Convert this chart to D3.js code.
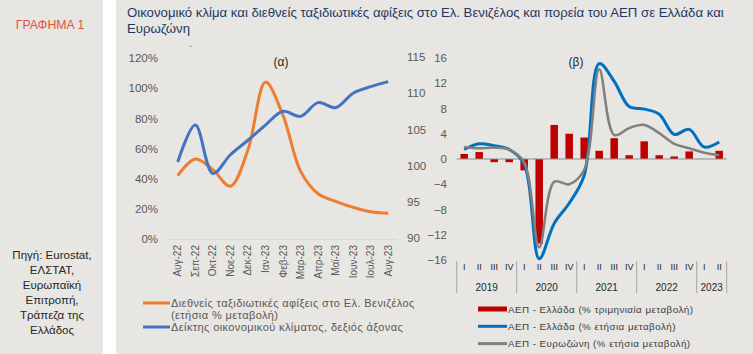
<!DOCTYPE html>
<html><head><meta charset="utf-8">
<script src="https://cdn.jsdelivr.net/npm/d3@7"></script>
<style>
html,body{margin:0;padding:0;background:#fff;}
svg{display:block;font-family:"Liberation Sans",Arial,sans-serif;}
</style></head>
<body>
<script>
// ---- data ----
const months = ["Αυγ-22","Σεπ-22","Οκτ-22","Νοε-22","Δεκ-22","Ιαν-23","Φεβ-23","Μαρ-23","Απρ-23","Μαϊ-23","Ιουν-23","Ιουλ-23","Αυγ-23"];
const arrivals = [0.42,0.53,0.46,0.35,0.59,1.04,0.82,0.45,0.30,0.25,0.21,0.18,0.17];
const climate = [100.5,105.6,98.9,101.5,103.5,105.6,107.5,106.8,108.7,108.0,110.0,110.9,111.6];
const leftTicksA = [0,0.2,0.4,0.6,0.8,1.0,1.2];
const rightTicksA = [90,95,100,105,110,115];

const years = ["2019","2020","2021","2022","2023"];
const quartersPerYear = [4,4,4,4,2];
const qNames = ["I","II","III","IV"];
const grQoQ = [0.8,1.1,-0.5,-0.5,-1.8,-13.4,5.4,4.0,3.4,1.3,3.3,0.6,2.8,0.6,0.4,1.2,0.0,1.3];
const grYoY = [1.5,2.4,2.1,1.5,-0.8,-15.8,-10.2,-7.0,-2.6,15.1,12.3,8.3,7.9,7.1,3.9,4.7,1.9,2.7];
const ezYoY = [1.9,1.7,1.8,1.5,-0.5,-14.0,-3.6,-4.0,-1.7,14.2,3.8,4.9,5.4,4.1,2.4,1.7,1.0,0.6];
const ticksB = [-16,-12,-8,-4,0,4,8,12,16];

const titleText = ["Οικονομικό κλίμα και διεθνείς ταξιδιωτικές αφίξεις στο Ελ. Βενιζέλος και πορεία του ΑΕΠ σε Ελλάδα και","Ευρωζώνη"];
const sourceText = ["Πηγή: Eurostat,","ΕΛΣΤΑΤ,","Ευρωπαϊκή","Επιτροπή,","Τράπεζα της","Ελλάδος"];
const legendA = [
  {lines:["Διεθνείς ταξιδιωτικές αφίξεις στο Ελ. Βενιζέλος","(ετήσια % μεταβολή)"], color:"#ed7d31"},
  {lines:["Δείκτης οικονομικού κλίματος, δεξιός άξονας"], color:"#4472c4"}
];
const legendB = [
  {text:"ΑΕΠ - Ελλάδα (% τριμηνιαία μεταβολή)", color:"#c00000", w:5},
  {text:"ΑΕΠ - Ελλάδα (% ετήσια μεταβολή)", color:"#0070c0", w:3},
  {text:"ΑΕΠ - Ευρωζώνη (% ετήσια μεταβολή)", color:"#808080", w:3}
];

const W = 753, H = 354;
const bg = "#e7e6e2";
const svg = d3.select("body").append("svg").attr("width",W).attr("height",H);

// panels
svg.append("rect").attr("x",0).attr("y",0).attr("width",103).attr("height",H).attr("fill",bg);
svg.append("rect").attr("x",116).attr("y",0).attr("width",W-116).attr("height",H).attr("fill",bg);

svg.append("text").attr("x",50).attr("y",29).attr("text-anchor","middle")
  .attr("font-size",12.3).attr("fill","#e0533d").text("ΓΡΑΦΗΜΑ 1");

svg.append("g").selectAll("text").data(sourceText).join("text")
  .attr("x",52).attr("y",(d,i)=>259+i*15).attr("text-anchor","middle")
  .attr("font-size",11.5).attr("fill","#262626").text(d=>d);

svg.append("g").selectAll("text").data(titleText).join("text")
  .attr("x",127).attr("y",(d,i)=>17+i*16)
  .attr("font-size",13.2).attr("fill","#1f3864").text(d=>d);

svg.append("text").attr("x",191).attr("y",52).attr("text-anchor","middle")
  .attr("font-size",9).attr("fill","#7f7f7f").text("ˇ");

// ---------- chart (α) ----------
const xA = d3.scalePoint().domain(months).range([169,397]).padding(0.5);
const yAL = d3.scaleLinear().domain([0,1.2]).range([239,58]);
const yAR = d3.scaleLinear().domain([90,115]).range([238,57]);

const gA = svg.append("g");
gA.append("line").attr("x1",169).attr("x2",397).attr("y1",239.5).attr("y2",239.5)
  .attr("stroke","#d9d9d9").attr("stroke-width",1);

const axL = gA.append("g").attr("transform","translate(160,0)")
  .call(d3.axisLeft(yAL).tickValues(leftTicksA).tickFormat(d3.format(".0%")).tickSize(0).tickPadding(2));
const axR = gA.append("g").attr("transform","translate(405,0)")
  .call(d3.axisRight(yAR).tickValues(rightTicksA).tickSize(0).tickPadding(2));
[axL,axR].forEach(a=>{a.select(".domain").remove();
  a.selectAll("text").attr("font-size",11.5).attr("fill","#595959").attr("font-family","Liberation Sans, Arial, sans-serif");});

gA.append("g").selectAll("text").data(months).join("text")
  .attr("transform",d=>`translate(${xA(d)+3.5},245) rotate(-90)`)
  .attr("text-anchor","end").attr("font-size",10).attr("fill","#595959").text(d=>d);

gA.append("text").attr("x",281).attr("y",66).attr("text-anchor","middle")
  .attr("font-size",12).attr("fill","#262626").text("(α)");

const lineA1 = d3.line().x((d,i)=>xA(months[i])).y(d=>yAL(d)).curve(d3.curveCatmullRom.alpha(0.5));
const lineA2 = d3.line().x((d,i)=>xA(months[i])).y(d=>yAR(d)).curve(d3.curveCatmullRom.alpha(0.5));
gA.append("path").attr("d",lineA1(arrivals)).attr("fill","none").attr("stroke","#ed7d31").attr("stroke-width",3);
gA.append("path").attr("d",lineA2(climate)).attr("fill","none").attr("stroke","#4472c4").attr("stroke-width",3);

// legend α
const lgA = gA.append("g");
lgA.append("line").attr("x1",143).attr("x2",170).attr("y1",303).attr("y2",303).attr("stroke",legendA[0].color).attr("stroke-width",3);
lgA.append("line").attr("x1",143).attr("x2",170).attr("y1",327).attr("y2",327).attr("stroke",legendA[1].color).attr("stroke-width",3);
lgA.append("g").selectAll("text").data(legendA[0].lines).join("text")
  .attr("x",171).attr("y",(d,i)=>307+i*12).attr("font-size",11).attr("letter-spacing",0.4).attr("fill","#595959").text(d=>d);
lgA.append("text").attr("x",171).attr("y",331).attr("font-size",11).attr("letter-spacing",0.4).attr("fill","#595959").text(legendA[1].lines[0]);

// ---------- chart (β) ----------
const qLabels = [];
years.forEach((y,yi)=>{ for(let q=0;q<quartersPerYear[yi];q++){ qLabels.push(y+"-"+qNames[q]); } });
const xB = d3.scaleBand().domain(qLabels).range([456.7,726.7]).paddingInner(0.5).paddingOuter(0.25);
const yB = d3.scaleLinear().domain([-16,16]).range([260,58]);
const cx = i => xB(qLabels[i]) + xB.bandwidth()/2;

const gB = svg.append("g");
const axB = gB.append("g").attr("transform","translate(450,0)")
  .call(d3.axisLeft(yB).tickValues(ticksB).tickSize(0).tickPadding(3));
axB.select(".domain").remove();
axB.selectAll("text").attr("font-size",11.5).attr("fill","#595959").attr("font-family","Liberation Sans, Arial, sans-serif");

gB.append("text").attr("x",576).attr("y",66).attr("text-anchor","middle")
  .attr("font-size",12).attr("fill","#262626").text("(β)");

gB.append("g").selectAll("rect").data(grQoQ).join("rect")
  .attr("x",(d,i)=>xB(qLabels[i])).attr("width",xB.bandwidth())
  .attr("y",d=>yB(Math.max(0,d))).attr("height",d=>Math.abs(yB(d)-yB(0)))
  .attr("fill","#c00000");

gB.append("line").attr("x1",456.7).attr("x2",726.7).attr("y1",yB(0)).attr("y2",yB(0))
  .attr("stroke","#8c8c8c").attr("stroke-width",1);

const lineB = d3.line().x((d,i)=>cx(i)).y(d=>yB(d)).curve(d3.curveCatmullRom.alpha(0.5));
gB.append("path").attr("d",lineB(grYoY)).attr("fill","none").attr("stroke","#0070c0").attr("stroke-width",3);
gB.append("path").attr("d",lineB(ezYoY)).attr("fill","none").attr("stroke","#808080").attr("stroke-width",2.5);

// category axis β
const sepX = [];
let idx = 0;
years.forEach((y,yi)=>{ sepX.push(xB.step()*idx); idx += quartersPerYear[yi]; });
sepX.push(xB.step()*idx);
gB.append("g").selectAll("line").data(sepX).join("line")
  .attr("x1",d=>456.7+d).attr("x2",d=>456.7+d).attr("y1",261).attr("y2",293)
  .attr("stroke","#a6a6a6").attr("stroke-width",1);
gB.append("g").selectAll("text").data(qLabels).join("text")
  .attr("x",(d,i)=>cx(i)).attr("y",270).attr("text-anchor","middle")
  .attr("font-size",9).attr("fill","#262626").text(d=>d.split("-")[1]);
gB.append("g").selectAll("text").data(years).join("text")
  .attr("x",(d,yi)=>{ const s=d3.sum(quartersPerYear.slice(0,yi)); return 456.7 + xB.step()*(s + quartersPerYear[yi]/2); })
  .attr("y",291).attr("text-anchor","middle").attr("font-size",10).attr("fill","#262626").text(d=>d);

// legend β
const lgB = gB.append("g").selectAll("g").data(legendB).join("g")
  .attr("transform",(d,i)=>`translate(0,${309+i*17.3})`);
lgB.append("line").attr("x1",478).attr("x2",507).attr("y1",0).attr("y2",0)
  .attr("stroke",d=>d.color).attr("stroke-width",d=>d.w);
lgB.append("text").attr("x",508).attr("y",3.5).attr("font-size",9.8).attr("letter-spacing",0.45).attr("fill","#404040").text(d=>d.text);
</script>
</body></html>
